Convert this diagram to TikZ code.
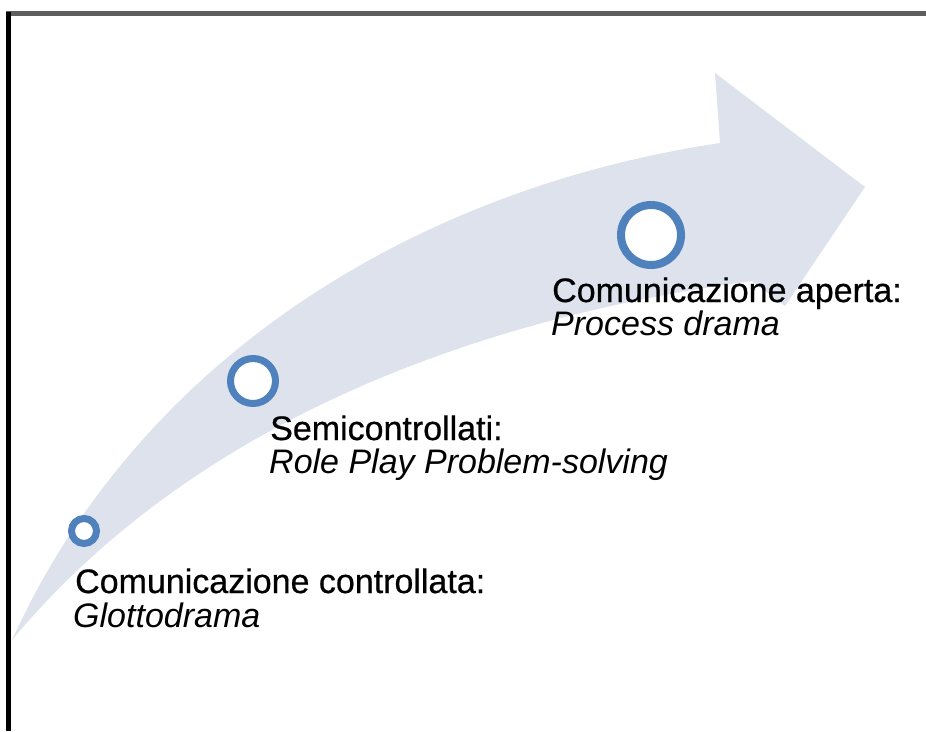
\documentclass[tikz,border=0pt]{standalone}
\usepackage{fontspec}
\setmainfont{Liberation Sans}
\definecolor{arrowfill}{RGB}{221,226,237}
\definecolor{ringblue}{RGB}{79,129,189}
\definecolor{framegray}{RGB}{95,95,95}
\newfontfamily\labelfont{Liberation Sans}[AutoFakeBold=0.6]
\begin{document}
\begin{tikzpicture}[x=1pt,y=-1pt,
  stage/.style={circle,draw=ringblue,fill=white,inner sep=0pt},
  lbl/.style={anchor=base west,inner sep=0pt,
    font=\labelfont\fontsize{34}{34}\selectfont\bfseries},
  lblit/.style={lbl,font=\labelfont\fontsize{34}{34}\selectfont\bfseries\itshape}]
\useasboundingbox (0,0) rectangle (926,731);
% frame lines
\draw[line width=4.5pt,framegray] (6,13.5) -- (926,13.5);
\draw[line width=5pt,black] (8.5,12) -- (8.5,731);
% curved progress arrow
\fill[arrowfill] (12,640) .. controls (142,354) and (420,188) .. (720,143)
  -- (715,73) -- (865,187) -- (785,306) -- (752,281)
  .. controls (449,322) and (182,436) .. (12,640) -- cycle;
% stage markers
\node[stage,line width=7pt,minimum size=25pt] (s1) at (84,531) {};
\node[stage,line width=7pt,minimum size=45pt] (s2) at (253,381) {};
\node[stage,line width=8pt,minimum size=60pt] (s3) at (651,235) {};
% labels
\node[lbl] (t1a) at (75,593) {Comunicazione controllata:};
\node[lblit] (t1b) at (73,627) {Glottodrama};
\node[lbl] (t2a) at (270,440) {Semicontrollati:};
\node[lblit] (t2b) at (269,473) {Role Play Problem-solving};
\node[lbl] (t3a) at (552,302) {Comunicazione aperta:};
\node[lblit] (t3b) at (551,335) {Process drama};
\end{tikzpicture}
\end{document}
